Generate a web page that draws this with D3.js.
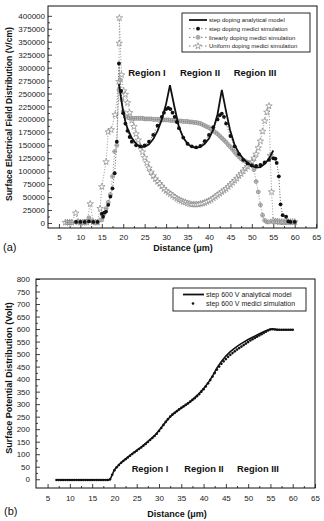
<!DOCTYPE html>
<html><head><meta charset="utf-8">
<script src="https://cdn.jsdelivr.net/npm/d3@7"></script>
<style>body{margin:0;background:#fff;} svg{display:block;font-family:"Liberation Sans",Arial,sans-serif;}</style>
</head><body><svg id="c" width="324" height="521"></svg>
<script>
// ---------- (a) Surface electrical field (V/cm), values in thousands ----------
const xTicksA = [5,10,15,20,25,30,35,40,45,50,55,60,65];
const yTicksA = [0,25000,50000,75000,100000,125000,150000,175000,200000,225000,250000,275000,300000,325000,350000,375000,400000];

const anaX = [19,19.5,20,20.5,21,22,23,24,25,26,27,28,29,30,30.9,32,33,34,35,36,37,38,39,40,41,42,43,44,44.9,46,47,48,49,50,51,52,53,54,55];
const anaY = [268,240,214,196,182,164,153,147,147,152,162,178,200,230,266,222,185,165,153,147,145,147,153,163,180,210,257,215,180,150,135,124,116,110,107,108,114,124,140];

const stepX = [9,10,11,12,13,14,15,15.3,15.6,16,16.5,17,17.5,18,18.5,19,19.5,20,20.5,21,21.5,22,23,24,25,26,27,28,29,29.5,30,30.5,31,31.5,32,32.5,33,34,35,36,37,38,39,40,41,42,42.5,43,43.5,44,45,46,47,48,49,50,51,52,53,54,55,55.5,55.8,56.3,56.7,57.2,58,58.5,59,60];
const stepY = [2,2,2,3,2,2,18,12,20,22,35,51,67,96,157,308,255,212,192,178,166,157,150,148,150,157,170,188,205,213,220,222,220,213,205,195,183,165,153,148,146,149,158,170,185,200,208,211,205,192,168,148,133,122,115,111,110,112,117,122,125,124,116,90,36,15,12,3,2,2];

const linX = [7,7.5,8,9,10,11,11.5,12,12.5,13,14,15,15.5,16,16.5,17,17.5,18,18.5,19,19.3,19.7,20,
  20.5,21,21.5,22,22.5,23,23.5,24,24.5,25,25.5,26,26.5,27,27.5,28,28.5,29,29.5,30,30.5,
  31,31.5,32,32.5,33,33.5,34,34.5,35,35.5,36,36.5,37,37.5,38,38.5,39,39.5,40,40.5,
  41,41.5,42,42.5,43,43.5,44,44.5,45,45.5,46,46.5,47,47.5,48,48.5,49,49.5,50,50.5,
  51,51.5,52,52.5,53,53.5,54,55,56,57,58,59,60];
const linY = [1,1,1,2,2,3,3,10,4,2,2,6,18,28,40,55,90,138,150,257,276,238,215,
  206,204,203,202,202,202,202,202,202,201,201,201,201,200,200,200,200,199,199,199,199,
  198,198,198,197,197,197,196,196,196,195,195,194,194,193,192,190,188,186,184,181,
  178,175,172,168,164,160,156,151,147,142,137,132,128,124,121,119,117,115,112,103,
  80,60,35,15,5,2,2,2,2,2,2,2,2];

const uniX = [6.5,7,7.5,8,8.9,9.5,10,10.5,11,11.5,12.3,13,13.5,14,14.6,15,16,16.5,17.2,18.1,19,19.07,19.1,19.6,20.1,
  20.5,21,21.5,22,22.5,23,23.5,24,24.5,25,25.5,26,26.5,27,27.5,28,28.5,29,29.5,30,
  30.5,31,31.5,32,32.5,33,33.5,34,34.5,35,35.5,36,36.5,37,37.5,38,38.5,39,39.5,40,
  40.5,41,41.5,42,42.5,43,43.5,44,44.5,45,45.5,46,46.5,47,47.5,48,48.5,49,49.5,50,
  50.5,51,51.5,52,52.5,53,53.5,54,
  54.3,54.6,55,55.5,56,56.5,57,57.5,58,58.5,59,59.5,60];
const uniY = [1,1,1,1,19,2,1,1,1,1,37,2,1,1,28,70,118,176,180,209,273,347,396,286,255,
  248,232,213,198,186,172,160,148,137,126,116,106,98,91,85,80,76,71,66,62,
  59,56,53,50,47,45,43,41,40,38,37,36,36,36,36,37,38,39,41,43,
  45,48,51,54,57,60,63,66,70,74,78,82,86,91,95,100,105,109,113,118,
  125,133,145,158,177,197,214,226,
  130,60,5,3,3,2,2,2,2,2,2,2,2];

const legendA = ["step doping analytical model","step doping medici simulation","linearly doping medici simulation","Uniform doping medici simulation"];
const regionLabels = ["Region I","Region II","Region III"];

// ---------- (b) Surface potential (Volt) ----------
const xTicksB = [5,10,15,20,25,30,35,40,45,50,55,60,65];
const yTicksB = [0,50,100,150,200,250,300,350,400,450,500,550,600,650,700,750,800];

const potAnaX = [7,19,20,21,22,23,24,25,26,27,28,29,30,31,32,33,34,35,36,37,38,39,40,41,42,43,44,45,46,47,48,49,50,51,52,53,54,55,55.5,57,60];
const potAnaY = [-2,-2,38,58,74,88,102,115,128,143,158,174,195,218,240,258,272,285,297,310,325,342,362,385,412,445,470,492,510,524,537,548,558,567,576,585,593,600,600,597,597];

const potSimX = [7,7.5,8,8.5,9,9.5,10,10.5,11,11.5,12,12.5,13,13.5,14,14.5,15,15.5,16,16.5,17,17.5,18,18.5,
  19,19.5,20,20.5,21,21.5,22,22.5,23,23.5,24,24.5,25,25.5,26,26.5,27,27.5,28,28.5,
  29,29.5,30,30.5,31,31.5,32,32.5,33,33.5,34,34.5,35,35.5,36,36.5,37,37.5,38,38.5,
  39,39.5,40,40.5,41,41.5,42,42.5,43,43.5,44,44.5,45,45.5,46,46.5,47,47.5,48,48.5,
  49,49.5,50,50.5,51,51.5,52,52.5,53,53.5,54,54.5,55,
  55.5,56,56.5,57,57.5,58,58.5,59,59.5,60];
const potSimY = [-3,-3,-3,-3,-3,-3,-3,-3,-3,-3,-3,-3,-3,-3,-3,-3,-3,-3,-3,-3,-3,-3,-3,-3,
  0,18,36,48,57,66,73,80,87,94,101,108,114,121,127,134,141,149,157,165,
  173,182,193,205,217,229,240,250,258,265,272,279,285,291,297,303,310,317,324,332,
  340,350,360,371,383,396,410,424,438,450,461,471,480,489,497,504,511,518,524,530,
  536,542,548,554,559,564,569,574,579,584,589,594,598,
  599,598,597,597,597,597,597,597,597,597];

const legendB = ["step 600 V analytical model","step 600 V medici simulation"];

// ---------- drawing ----------
const svg = d3.select("#c");
const zip = (xs, ys) => xs.map((v,i)=>[v, ys[i]]);

function minorBetween(t){ const m=[]; for(let i=0;i<t.length-1;i++) m.push((t[i]+t[i+1])/2); return m; }

function frame(x, y, xTicks, yTicks, xpad, ypad){
  const [x0,x1]=x.range(), [y0,y1]=y.range();
  const g = svg.append("g");
  g.append("g").attr("transform",`translate(0,${y0})`)
    .call(d3.axisBottom(x).tickValues(xTicks).tickSize(-4).tickPadding(xpad).tickFormat(d3.format("d")));
  g.append("g").attr("transform",`translate(0,${y0})`)
    .call(d3.axisBottom(x).tickValues(minorBetween(xTicks)).tickSize(-2).tickFormat(""));
  g.append("g").attr("transform",`translate(${x0},0)`)
    .call(d3.axisLeft(y).tickValues(yTicks).tickSize(-4).tickPadding(ypad).tickFormat(d3.format("d")));
  g.append("g").attr("transform",`translate(${x0},0)`)
    .call(d3.axisLeft(y).tickValues(minorBetween(yTicks)).tickSize(-2).tickFormat(""));
  g.selectAll(".domain").remove();
  g.selectAll(".tick line").attr("stroke","#111").attr("stroke-width",0.8);
  g.selectAll(".tick text").attr("font-size",8).attr("fill","#222").attr("font-family","Liberation Sans, Arial, sans-serif");
  g.append("rect").attr("x",x0).attr("y",y1).attr("width",x1-x0).attr("height",y0-y1)
    .attr("fill","none").attr("stroke","#111").attr("stroke-width",1);
}

// ---- panel (a)
const xa = d3.scaleLinear().domain([2.45,65.2]).range([48,317]);
const ya = d3.scaleLinear().domain([-9700,419000]).range([228,6]);
frame(xa, ya, xTicksA, yTicksA, 6, 3);

const lineA = d3.line().x(d=>xa(d[0])).y(d=>ya(d[1]*1000));
const pa = svg.append("g");

function starSym(g, pts, sx, sy, scaleY){
  g.selectAll(null).data(pts).join("path")
    .attr("d", d3.symbol(d3.symbolStar, 13)())
    .attr("transform", d=>`translate(${sx(d[0])},${sy(d[1]*scaleY)})`)
    .attr("fill","#fff").attr("stroke","#777").attr("stroke-width",0.6);
}
function plusSym(g, pts, sx, sy, scaleY){
  const s = g.selectAll(null).data(pts).join("g")
    .attr("transform", d=>`translate(${sx(d[0])},${sy(d[1]*scaleY)})`);
  s.append("circle").attr("r",2).attr("fill","#e4e4e4").attr("stroke","#777").attr("stroke-width",0.6);
  s.append("path").attr("d","M-1.9,0H1.9M0,-1.9V1.9").attr("stroke","#777").attr("stroke-width",0.6);
}

const uni = zip(uniX, uniY), lin = zip(linX, linY), stp = zip(stepX, stepY), ana = zip(anaX, anaY);
pa.append("path").attr("d", lineA(uni)).attr("fill","none").attr("stroke","#777").attr("stroke-width",0.8).attr("stroke-dasharray","1,1.8");
pa.append("path").attr("d", lineA(lin)).attr("fill","none").attr("stroke","#777").attr("stroke-width",0.8).attr("stroke-dasharray","1,1.8");
pa.append("path").attr("d", lineA(stp)).attr("fill","none").attr("stroke","#333").attr("stroke-width",0.8).attr("stroke-dasharray","1,1.8");
starSym(pa, uni, xa, ya, 1000);
plusSym(pa, lin, xa, ya, 1000);
pa.selectAll(null).data(stp).join("circle")
  .attr("cx",d=>xa(d[0])).attr("cy",d=>ya(d[1]*1000)).attr("r",1.9).attr("fill","#111");
pa.append("path").attr("d", lineA(ana)).attr("fill","none").attr("stroke","#111").attr("stroke-width",1.8);

// regions (a)
const regXA = [147,200,255];
svg.selectAll(null).data(regionLabels).join("text")
  .attr("x",(d,i)=>regXA[i]).attr("y",76).attr("text-anchor","middle")
  .attr("font-size",9.5).attr("font-weight","bold").attr("fill","#111").text(d=>d);

// legend (a)
const lg = svg.append("g");
lg.append("rect").attr("x",182).attr("y",13).attr("width",128).attr("height",39).attr("fill","#fff").attr("stroke","#111").attr("stroke-width",0.9);
const lyA = [20,28.7,37.3,46];
lg.append("line").attr("x1",189).attr("x2",207).attr("y1",lyA[0]).attr("y2",lyA[0]).attr("stroke","#111").attr("stroke-width",1.8);
[1,2,3].forEach(i=>{
  lg.append("line").attr("x1",189).attr("x2",207).attr("y1",lyA[i]).attr("y2",lyA[i]).attr("stroke","#555").attr("stroke-width",0.8).attr("stroke-dasharray","1.5,2.5");
});
lg.append("circle").attr("cx",198).attr("cy",lyA[1]).attr("r",1.9).attr("fill","#111");
plusSym(lg, [[198, lyA[2]]], v=>v, v=>v, 1);
starSym(lg, [[198, lyA[3]]], v=>v, v=>v, 1);
lg.selectAll(null).data(legendA).join("text")
  .attr("x",209).attr("y",(d,i)=>lyA[i]+2.2).attr("font-size",6).attr("fill","#222").text(d=>d);

// titles (a)
svg.append("text").attr("transform","translate(12,114) rotate(-90)").attr("text-anchor","middle")
  .attr("font-size",8.6).attr("font-weight","bold").attr("fill","#111").text("Surface Electrical Field Distribution (V/cm)");
svg.append("text").attr("x",183).attr("y",251).attr("text-anchor","middle")
  .attr("font-size",9).attr("font-weight","bold").attr("fill","#111").text("Distance (\u03bcm)");
svg.append("text").attr("x",3).attr("y",251).attr("font-size",11).attr("fill","#111").text("(a)");

// ---- panel (b)
const xb = d3.scaleLinear().domain([2.4,65]).range([36,315]);
const yb = d3.scaleLinear().domain([-35,800]).range([488,279]);
frame(xb, yb, xTicksB, yTicksB, 7, 6);

const lineB = d3.line().x(d=>xb(d[0])).y(d=>yb(d[1]));
const pb = svg.append("g");
pb.selectAll(null).data(zip(potSimX, potSimY)).join("circle")
  .attr("cx",d=>xb(d[0])).attr("cy",d=>yb(d[1])).attr("r",1.3).attr("fill","#111");
pb.append("path").attr("d", lineB(zip(potAnaX, potAnaY))).attr("fill","none").attr("stroke","#111").attr("stroke-width",1.6);

const regXB = [150,204,258];
svg.selectAll(null).data(regionLabels).join("text")
  .attr("x",(d,i)=>regXB[i]).attr("y",472).attr("text-anchor","middle")
  .attr("font-size",9.3).attr("font-weight","bold").attr("fill","#111").text(d=>d);

const lb = svg.append("g");
lb.append("rect").attr("x",173).attr("y",288).attr("width",133).attr("height",23).attr("fill","#fff").attr("stroke","#111").attr("stroke-width",0.9);
const lyB = [294.5,303.5];
lb.append("line").attr("x1",183).attr("x2",204).attr("y1",lyB[0]).attr("y2",lyB[0]).attr("stroke","#111").attr("stroke-width",1.8);
lb.append("circle").attr("cx",193).attr("cy",lyB[1]).attr("r",1.3).attr("fill","#111");
lb.selectAll(null).data(legendB).join("text")
  .attr("x",206).attr("y",(d,i)=>lyB[i]+2.5).attr("font-size",7).attr("fill","#222").text(d=>d);

svg.append("text").attr("transform","translate(12,378) rotate(-90)").attr("text-anchor","middle")
  .attr("font-size",9).attr("font-weight","bold").attr("fill","#111").text("Surface Potential Distribution (Volt)");
svg.append("text").attr("x",177).attr("y",517).attr("text-anchor","middle")
  .attr("font-size",9).attr("font-weight","bold").attr("fill","#111").text("Distance (\u03bcm)");
svg.append("text").attr("x",4).attr("y",515).attr("font-size",11).attr("fill","#111").text("(b)");
</script></body></html>
